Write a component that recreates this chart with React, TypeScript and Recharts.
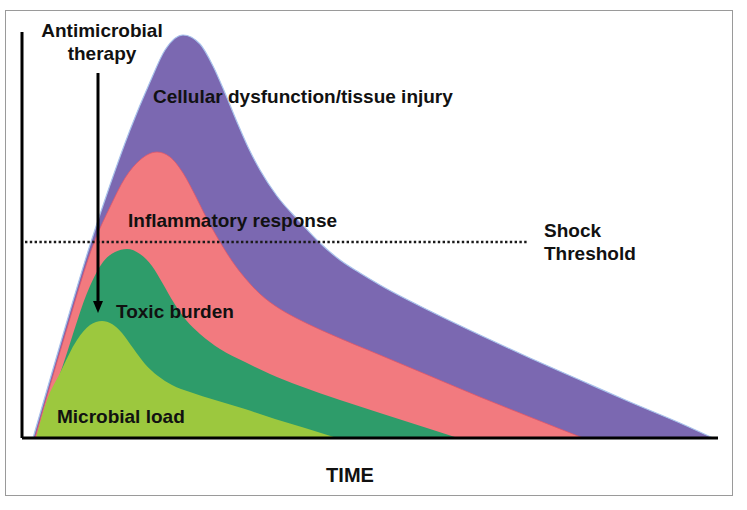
import React from "react";
import { AreaChart, Area, XAxis, YAxis, ReferenceLine, ReferenceDot } from "recharts";

// [time, level] pairs (arbitrary units)
const cellularInjury = [
  [2.75, 0], [9.5, 23.25], [17, 48.25], [22, 63.25], [27, 77], [32, 89], [35.75, 97],
  [40.25, 100.75], [44.5, 98.5], [47.75, 93], [50.75, 86.25], [53.75, 79], [56.5, 72.75],
  [59.5, 67], [63.75, 60.5], [69.5, 54], [74.5, 48.75], [79.5, 44.5], [84.5, 41.25],
  [89.5, 38.25], [102, 31.75], [114.5, 25.75], [127, 20], [139.5, 14.5], [152, 9],
  [164.5, 3.75], [172.75, 0],
];
const inflammatoryResponse = [
  [3.25, 0], [10.75, 25.75], [18.25, 49.5], [22, 57.75], [25.75, 65], [29.5, 69.5],
  [33.75, 71.5], [37, 70.25], [40.25, 66.25], [43.25, 60.75], [46.25, 54.75], [49.5, 49],
  [52.5, 44.25], [55.75, 40], [59.5, 36], [64.5, 32.25], [69.5, 29.5], [77, 26],
  [89.5, 20.75], [102, 15.5], [114.5, 10.25], [127, 5.25], [140.25, 0],
];
const toxicBurden = [
  [4, 0], [10.5, 19], [17, 38], [20.25, 44], [23.25, 46.5], [26.25, 47.25], [29.5, 46],
  [32.5, 43], [35.25, 38.5], [38, 33.75], [41, 29.5], [44.5, 26], [49.5, 22.25],
  [55.75, 19], [62, 16], [69.5, 13], [79.5, 9.5], [89.5, 6.25], [102, 2.25], [109, 0],
];
const microbialLoad = [
  [3.5, 0], [6.25, 9.5], [9.5, 16.25], [13.75, 24.5], [17, 28.25], [20, 29.25], [22.5, 28.5],
  [25, 26.25], [27.75, 22.5], [30.75, 18.5], [34, 15.5], [37.5, 13.25], [42, 11.5],
  [48.25, 9.5], [55.75, 7.25], [63.25, 4.75], [70.75, 2.5], [78.75, 0],
];

const shockThreshold = 49;
const therapyTime = 19;

const toRows = (pairs: number[][]) => pairs.map(([t, v]) => ({ t, v }));

const labelStyle: React.CSSProperties = {
  fontFamily: "'Liberation Sans', Arial, sans-serif",
  fontWeight: 700,
  fontSize: 19,
  fill: "#111",
};

const ArrowHead = (props: any) => {
  const { cx, cy } = props;
  return <polygon points={`${cx},${cy} ${cx - 5},${cy - 12} ${cx + 5},${cy - 12}`} fill="#000" />;
};

export default function App() {
  return (
    <div style={{ position: "absolute", left: 0, top: 0, width: 747, height: 510, background: "#fff" }}>
      <div
        style={{
          position: "absolute",
          left: 5,
          top: 10,
          width: 726,
          height: 484,
          border: "1px solid #9a9a9a",
        }}
      />
      <div style={{ position: "absolute", left: 0, top: 0 }}>
        <AreaChart width={747} height={510} margin={{ top: 32, right: 29, bottom: 72, left: 22 }}>
          <XAxis dataKey="t" type="number" domain={[0, 174]} height={0} hide />
          <YAxis type="number" domain={[0, 101.5]} width={0} hide />
          <Area
            data={toRows(cellularInjury)}
            dataKey="v"
            type="monotone"
            fill="#7b68b1"
            fillOpacity={1}
            stroke="#a9c3ec"
            strokeWidth={1.2}
            isAnimationActive={false}
          />
          <Area
            data={toRows(inflammatoryResponse)}
            dataKey="v"
            type="monotone"
            fill="#f27a7f"
            fillOpacity={1}
            stroke="#e0566a"
            strokeWidth={0.8}
            isAnimationActive={false}
          />
          <Area
            data={toRows(toxicBurden)}
            dataKey="v"
            type="monotone"
            fill="#2e9c6a"
            fillOpacity={1}
            stroke="none"
            isAnimationActive={false}
          />
          <Area
            data={toRows(microbialLoad)}
            dataKey="v"
            type="monotone"
            fill="#9cc83e"
            fillOpacity={1}
            stroke="none"
            isAnimationActive={false}
          />
          {/* axes */}
          <ReferenceLine
            segment={[{ x: 0, y: 0 }, { x: 174, y: 0 }]}
            stroke="#000"
            strokeWidth={3}
            ifOverflow="visible"
          />
          <ReferenceLine
            segment={[{ x: 0, y: 0 }, { x: 0, y: 101.5 }]}
            stroke="#000"
            strokeWidth={3}
            ifOverflow="visible"
          />
          <ReferenceLine
            segment={[
              { x: 0.75, y: shockThreshold },
              { x: 126.25, y: shockThreshold },
            ]}
            stroke="#1a1a1a"
            strokeWidth={2.5}
            strokeDasharray="2.4 2.4"
          />
          <ReferenceLine
            segment={[
              { x: therapyTime, y: 91.25 },
              { x: therapyTime, y: 34 },
            ]}
            stroke="#000"
            strokeWidth={3}
          />
          <ReferenceDot x={therapyTime} y={31.25} shape={ArrowHead} />
        </AreaChart>
      </div>
      <svg width={747} height={510} style={{ position: "absolute", left: 0, top: 0 }}>
        <text x={102} y={37} textAnchor="middle" style={labelStyle}>Antimicrobial</text>
        <text x={102} y={60} textAnchor="middle" style={labelStyle}>therapy</text>
        <text x={153} y={103} style={labelStyle}>Cellular dysfunction/tissue injury</text>
        <text x={128} y={227} style={labelStyle}>Inflammatory response</text>
        <text x={544} y={237} style={labelStyle}>Shock</text>
        <text x={544} y={260} style={labelStyle}>Threshold</text>
        <text x={116} y={318} style={labelStyle}>Toxic burden</text>
        <text x={57} y={423} style={labelStyle}>Microbial load</text>
        <text x={350} y={482} textAnchor="middle" style={{ ...labelStyle, fontSize: 20 }}>TIME</text>
      </svg>
    </div>
  );
}
